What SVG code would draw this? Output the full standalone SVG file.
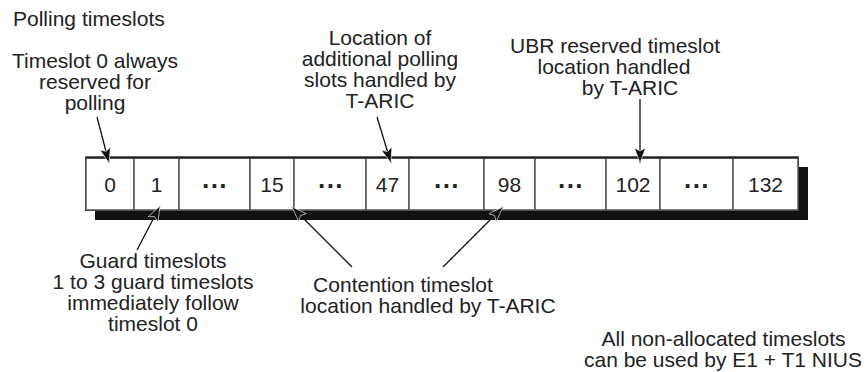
<svg xmlns="http://www.w3.org/2000/svg" width="867" height="372" viewBox="0 0 867 372">
<defs>
<style>
text{font-family:"Liberation Sans",Arial,Helvetica,sans-serif;font-size:21px;fill:#222;}
.c{text-anchor:middle;}
.cell{fill:#fff;stroke:#555;stroke-width:1.5;}
.dots{font-weight:bold;font-size:26px;letter-spacing:0;}
.conn{stroke:#111;stroke-width:1.3;fill:none;marker-end:url(#ah);}
</style>
<marker id="ah" markerUnits="userSpaceOnUse" markerWidth="18" markerHeight="14" refX="15" refY="5.5" orient="auto">
<path d="M0,0 L15,5.5 L0,11 L3,5.5 z" fill="#111" stroke="#fff" stroke-width="0.6"/>
</marker>
</defs>
<rect x="0" y="0" width="867" height="372" fill="#fff"/>

<text x="13" y="26">Polling timeslots</text>

<g id="slots">
<rect x="95" y="167" width="713" height="53" fill="#111"/>
<rect x="86" y="157.5" width="712" height="52.5" fill="#fff" stroke="#333" stroke-width="2"/>
<g id="slot0"><rect class="cell" x="86" y="158" width="48" height="52"/><text class="c" x="110" y="192">0</text></g>
<g id="slot1"><rect class="cell" x="134" y="158" width="45" height="52"/><text class="c" x="156.5" y="192">1</text></g>
<g id="gap1"><rect class="cell" x="179" y="158" width="71" height="52"/><text class="c dots" x="215" y="195">···</text></g>
<g id="slot15"><rect class="cell" x="250" y="158" width="44" height="52"/><text class="c" x="272" y="192">15</text></g>
<g id="gap2"><rect class="cell" x="294" y="158" width="72" height="52"/><text class="c dots" x="331" y="195">···</text></g>
<g id="slot47"><rect class="cell" x="366" y="158" width="43" height="52"/><text class="c" x="387.5" y="192">47</text></g>
<g id="gap3"><rect class="cell" x="409" y="158" width="75" height="52"/><text class="c dots" x="447" y="195">···</text></g>
<g id="slot98"><rect class="cell" x="484" y="158" width="51" height="52"/><text class="c" x="509.5" y="192">98</text></g>
<g id="gap4"><rect class="cell" x="535" y="158" width="71" height="52"/><text class="c dots" x="571" y="195">···</text></g>
<g id="slot102"><rect class="cell" x="606" y="158" width="54" height="52"/><text class="c" x="633" y="192">102</text></g>
<g id="gap5"><rect class="cell" x="660" y="158" width="73" height="52"/><text class="c dots" x="697" y="195">···</text></g>
<g id="slot132"><rect class="cell" x="733" y="158" width="65" height="52"/><text class="c" x="765.5" y="192">132</text></g>
<path d="M86,157.5 H798" stroke="#222" stroke-width="2"/>
</g>

<g id="label-ts0">
<text class="c" x="95" y="68">Timeslot 0 always</text>
<text class="c" x="95" y="89">reserved for</text>
<text class="c" x="95" y="110">polling</text>
</g>
<g id="label-polling">
<text class="c" x="380" y="45">Location of</text>
<text class="c" x="380" y="66">additional polling</text>
<text class="c" x="380" y="87">slots handled by</text>
<text class="c" x="380" y="108">T-ARIC</text>
</g>
<g id="label-ubr">
<text class="c" x="615" y="53">UBR reserved timeslot</text>
<text class="c" x="614" y="74">location handled</text>
<text class="c" x="630" y="95">by T-ARIC</text>
</g>
<g id="label-guard">
<text class="c" x="153" y="268">Guard timeslots</text>
<text class="c" x="153" y="289">1 to 3 guard timeslots</text>
<text class="c" x="153" y="310">immediately follow</text>
<text class="c" x="153" y="331">timeslot 0</text>
</g>
<g id="label-contention">
<text class="c" x="403" y="292">Contention timeslot</text>
<text class="c" x="428" y="313">location handled by T-ARIC</text>
</g>
<g id="label-nonalloc">
<text class="c" x="723.5" y="346">All non-allocated timeslots</text>
<text class="c" x="723" y="367">can be used by E1 + T1 NIUS</text>
</g>

<g id="connectors">
<line class="conn" x1="97" y1="117" x2="109" y2="163"/>
<line class="conn" x1="377" y1="117" x2="391" y2="163"/>
<line class="conn" x1="640" y1="99" x2="640" y2="163"/>
<line class="conn" x1="137" y1="250" x2="160" y2="206"/>
<line class="conn" x1="352" y1="267" x2="292" y2="207"/>
<line class="conn" x1="443" y1="267" x2="503" y2="207"/>
</g>
</svg>
